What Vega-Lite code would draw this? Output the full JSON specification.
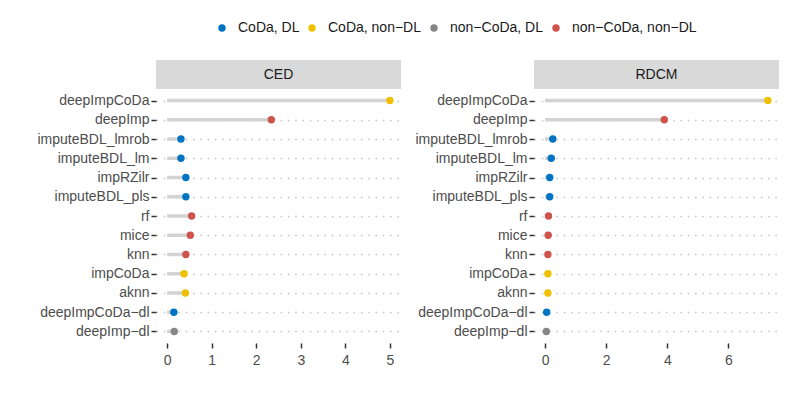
{
  "$schema": "https://vega.github.io/schema/vega-lite/v6.json",
  "background": "white",
  "padding": {"left": 36, "top": 21, "right": 5, "bottom": 5},
  "datasets": {
    "d": [
      {"panel": "CED", "method": "deepImpCoDa", "value": 5.0, "group": "CoDa, non−DL"},
      {"panel": "CED", "method": "deepImp", "value": 2.34, "group": "non−CoDa, non−DL"},
      {"panel": "CED", "method": "imputeBDL_lmrob", "value": 0.31, "group": "CoDa, DL"},
      {"panel": "CED", "method": "imputeBDL_lm", "value": 0.31, "group": "CoDa, DL"},
      {"panel": "CED", "method": "impRZilr", "value": 0.42, "group": "CoDa, DL"},
      {"panel": "CED", "method": "imputeBDL_pls", "value": 0.42, "group": "CoDa, DL"},
      {"panel": "CED", "method": "rf", "value": 0.55, "group": "non−CoDa, non−DL"},
      {"panel": "CED", "method": "mice", "value": 0.52, "group": "non−CoDa, non−DL"},
      {"panel": "CED", "method": "knn", "value": 0.42, "group": "non−CoDa, non−DL"},
      {"panel": "CED", "method": "impCoDa", "value": 0.38, "group": "CoDa, non−DL"},
      {"panel": "CED", "method": "aknn", "value": 0.41, "group": "CoDa, non−DL"},
      {"panel": "CED", "method": "deepImpCoDa−dl", "value": 0.15, "group": "CoDa, DL"},
      {"panel": "CED", "method": "deepImp−dl", "value": 0.16, "group": "non−CoDa, DL"},
      {"panel": "RDCM", "method": "deepImpCoDa", "value": 7.29, "group": "CoDa, non−DL"},
      {"panel": "RDCM", "method": "deepImp", "value": 3.9, "group": "non−CoDa, non−DL"},
      {"panel": "RDCM", "method": "imputeBDL_lmrob", "value": 0.25, "group": "CoDa, DL"},
      {"panel": "RDCM", "method": "imputeBDL_lm", "value": 0.2, "group": "CoDa, DL"},
      {"panel": "RDCM", "method": "impRZilr", "value": 0.15, "group": "CoDa, DL"},
      {"panel": "RDCM", "method": "imputeBDL_pls", "value": 0.15, "group": "CoDa, DL"},
      {"panel": "RDCM", "method": "rf", "value": 0.11, "group": "non−CoDa, non−DL"},
      {"panel": "RDCM", "method": "mice", "value": 0.1, "group": "non−CoDa, non−DL"},
      {"panel": "RDCM", "method": "knn", "value": 0.09, "group": "non−CoDa, non−DL"},
      {"panel": "RDCM", "method": "impCoDa", "value": 0.09, "group": "CoDa, non−DL"},
      {"panel": "RDCM", "method": "aknn", "value": 0.09, "group": "CoDa, non−DL"},
      {"panel": "RDCM", "method": "deepImpCoDa−dl", "value": 0.05, "group": "CoDa, DL"},
      {"panel": "RDCM", "method": "deepImp−dl", "value": 0.04, "group": "non−CoDa, DL"}
    ]
  },
  "config": {
    "font": "Liberation Sans",
    "view": {"stroke": null},
    "axis": {
      "domain": false,
      "labelFont": "Liberation Sans",
      "labelFontSize": 14,
      "labelColor": "#4d4d4d",
      "tickColor": "#333333",
      "tickWidth": 1.5,
      "tickSize": 5,
      "title": null
    },
    "legend": {
      "labelFont": "Liberation Sans",
      "labelFontSize": 14,
      "labelColor": "#1a1a1a"
    }
  },
  "spacing": 13,
  "hconcat": [
    {
      "spacing": 0,
      "vconcat": [
        {
          "width": 245,
          "height": 29,
          "data": {"values": [{"panel": "CED"}]},
          "layer": [
            {"mark": {"type": "rect", "color": "#d9d9d9"}, "encoding": {"x": {"value": 0}, "x2": {"value": "width"}, "y": {"value": 0}, "y2": {"value": "height"}}},
            {"mark": {"type": "text", "fontSize": 14, "color": "#1a1a1a", "font": "Liberation Sans", "baseline": "middle"}, "encoding": {"text": {"field": "panel", "type": "nominal"}}}
          ]
        },
        {
          "width": 245,
          "height": 254,
          "data": {"name": "d"},
          "transform": [{"filter": "datum.panel === 'CED'"}],
          "encoding": {
            "y": {
              "field": "method",
              "type": "nominal",
              "sort": ["deepImpCoDa", "deepImp", "imputeBDL_lmrob", "imputeBDL_lm", "impRZilr", "imputeBDL_pls", "rf", "mice", "knn", "impCoDa", "aknn", "deepImpCoDa−dl", "deepImp−dl"],
              "scale": {"type": "point", "padding": 0.6},
              "axis": {"grid": true, "gridDash": [1.5, 5.8], "gridColor": "#c4c4c4", "gridWidth": 1.3, "labelPadding": 2}
            },
            "x": {"field": "value", "type": "quantitative", "scale": {"domain": [-0.25, 5.25], "nice": false, "zero": false}, "axis": {"grid": false, "values": [0, 1, 2, 3, 4, 5], "labelPadding": 5}}
          },
          "layer": [
            {
              "mark": {"type": "rule", "color": "#d3d3d3", "strokeWidth": 3.5},
              "encoding": {"x2": {"datum": 0}}
            },
            {
              "mark": {"type": "circle", "size": 55, "opacity": 1},
              "encoding": {
                "color": {
                  "field": "group",
                  "type": "nominal",
                  "scale": {"domain": ["CoDa, DL", "CoDa, non−DL", "non−CoDa, DL", "non−CoDa, non−DL"], "range": ["#0073c2", "#efc000", "#868686", "#cd534c"]},
                  "legend": {"title": null, "orient": "none", "direction": "horizontal", "legendX": 59, "legendY": -39, "symbolType": "circle", "symbolSize": 55, "labelOffset": 9, "columnPadding": 5}
                }
              }
            }
          ]
        }
      ]
    },
    {
      "spacing": 0,
      "vconcat": [
        {
          "width": 245,
          "height": 29,
          "data": {"values": [{"panel": "RDCM"}]},
          "layer": [
            {"mark": {"type": "rect", "color": "#d9d9d9"}, "encoding": {"x": {"value": 0}, "x2": {"value": "width"}, "y": {"value": 0}, "y2": {"value": "height"}}},
            {"mark": {"type": "text", "fontSize": 14, "color": "#1a1a1a", "font": "Liberation Sans", "baseline": "middle"}, "encoding": {"text": {"field": "panel", "type": "nominal"}}}
          ]
        },
        {
          "width": 245,
          "height": 254,
          "data": {"name": "d"},
          "transform": [{"filter": "datum.panel === 'RDCM'"}],
          "encoding": {
            "y": {
              "field": "method",
              "type": "nominal",
              "sort": ["deepImpCoDa", "deepImp", "imputeBDL_lmrob", "imputeBDL_lm", "impRZilr", "imputeBDL_pls", "rf", "mice", "knn", "impCoDa", "aknn", "deepImpCoDa−dl", "deepImp−dl"],
              "scale": {"type": "point", "padding": 0.6},
              "axis": {"grid": true, "gridDash": [1.5, 5.8], "gridColor": "#c4c4c4", "gridWidth": 1.3, "labelPadding": 2}
            },
            "x": {"field": "value", "type": "quantitative", "scale": {"domain": [-0.3645, 7.6545], "nice": false, "zero": false}, "axis": {"grid": false, "values": [0, 2, 4, 6], "labelPadding": 5}}
          },
          "layer": [
            {
              "mark": {"type": "rule", "color": "#d3d3d3", "strokeWidth": 3.5},
              "encoding": {"x2": {"datum": 0}}
            },
            {
              "mark": {"type": "circle", "size": 55, "opacity": 1},
              "encoding": {
                "color": {
                  "field": "group",
                  "type": "nominal",
                  "scale": {"domain": ["CoDa, DL", "CoDa, non−DL", "non−CoDa, DL", "non−CoDa, non−DL"], "range": ["#0073c2", "#efc000", "#868686", "#cd534c"]},
                  "legend": {"title": null, "orient": "none", "direction": "horizontal", "legendX": 59, "legendY": -39, "symbolType": "circle", "symbolSize": 55, "labelOffset": 9, "columnPadding": 5}
                }
              }
            }
          ]
        }
      ]
    }
  ]
}
